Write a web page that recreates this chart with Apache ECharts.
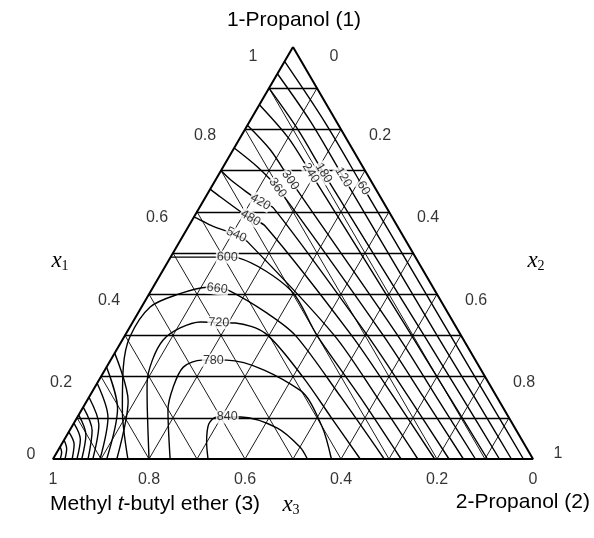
<!DOCTYPE html>
<html><head><meta charset="utf-8">
<script src="https://cdn.jsdelivr.net/npm/echarts@6/dist/echarts.min.js"></script>
<style>html,body{margin:0;padding:0;background:#fff}#c{width:594px;height:538px}</style>
</head><body><div id="c"></div>
<script>
// Compositions are [x1, x2]; x3 = 1 - x1 - x2
const tickValues = [0, 0.2, 0.4, 0.6, 0.8, 1];
const tickLabels = ['0', '0.2', '0.4', '0.6', '0.8', '1'];
const gridFractions = [0.1, 0.2, 0.3, 0.4, 0.5, 0.6, 0.7, 0.8, 0.9];
const levels = [60, 120, 180, 240, 300, 360, 420, 480, 540, 600, 660, 720, 780, 840];
const labelPoints = [[0.658,0.318],[0.684,0.263],[0.694,0.217],[0.694,0.19],[0.677,0.156],[0.658,0.139],[0.624,0.12],[0.585,0.119],[0.544,0.11],[0.49,0.118],[0.414,0.135],[0.331,0.18],[0.24,0.214],[0.102,0.312]];

// upper branches: left edge -> bottom edge
const u60  = [[0.965,0],[0.82,0.155],[0.658,0.318],[0.3,0.678],[0.15,0.829],[0,0.98]];
const u120 = [[0.935,0],[0.82,0.126],[0.684,0.263],[0.3,0.65],[0.15,0.803],[0,0.955]];
const u180 = [[0.9,0],[0.8,0.11],[0.694,0.217],[0.3,0.623],[0.15,0.777],[0,0.93]];
const u240 = [[0.86,0],[0.78,0.1],[0.694,0.19],[0.3,0.597],[0.15,0.751],[0,0.905]];
const u300 = [[0.81,0],[0.75,0.078],[0.677,0.156],[0.3,0.568],[0.15,0.724],[0,0.88]];
const u360 = [[0.755,0],[0.71,0.07],[0.658,0.139],[0.3,0.538],[0.15,0.697],[0,0.855]];
const u420 = [[0.7,0],[0.677,0.032],[0.641,0.091],[0.624,0.12],[0.609,0.155],[0.3,0.505],[0.15,0.666],[0,0.825]];
const u480 = [[0.655,0],[0.641,0.0225],[0.6,0.091],[0.585,0.119],[0.565,0.16],[0.3,0.472],[0.15,0.635],[0,0.795]];
const u540 = [[0.587,0],[0.5825,0.012],[0.565,0.05],[0.544,0.11],[0.527,0.142],[0.3,0.436],[0.15,0.6],[0,0.76]];
const u600 = [[0.49,0],[0.49,0.06],[0.49,0.118],[0.488,0.142],[0.41,0.29],[0.3,0.4],[0.15,0.565],[0,0.725]];
// arches (bottom edge -> bottom edge)
const a660 = [[0,0.156],[0.119,0.085],[0.223,0.035],[0.296,0.012],[0.369,0.018],[0.4,0.061],[0.417,0.113],[0.414,0.135],[0.41,0.16],[0.354,0.269],[0.3,0.355],[0.15,0.525],[0,0.69]];
const a720 = [[0,0.2],[0.119,0.137],[0.184,0.104],[0.24,0.087],[0.289,0.085],[0.318,0.106],[0.3325,0.141],[0.331,0.18],[0.33,0.215],[0.305,0.29],[0.2,0.42],[0.1,0.53],[0,0.64]];
const a780 = [[0,0.244],[0.119,0.18],[0.175,0.163],[0.223,0.16],[0.24,0.19],[0.24,0.214],[0.24,0.242],[0.167,0.431],[0.08,0.52],[0,0.58]];
const a840 = [[0,0.323],[0.04,0.3],[0.085,0.282],[0.102,0.29],[0.102,0.312],[0.102,0.34],[0.075,0.43],[0.029,0.5],[0,0.53]];
// lower-left branches near the ether corner
const l60  = [[0.03,0],[0.0165,0.0098],[0,0.015]];
const l120 = [[0.046,0],[0.025,0.016],[0,0.025]];
const l180 = [[0.066,0],[0.036,0.026],[0,0.04]];
const l240 = [[0.087,0],[0.048,0.033],[0,0.05]];
const l300 = [[0.107,0],[0.059,0.039],[0,0.06]];
const l360 = [[0.126,0],[0.069,0.047],[0,0.073]];
const l420 = [[0.15,0],[0.083,0.054],[0,0.083]];
const l480 = [[0.184,0],[0.101,0.064],[0,0.098]];
const l540 = [[0.223,0],[0.123,0.073],[0,0.112]];
const l600 = [[0.257,0],[0.141,0.086],[0,0.133]];

const labelBranches = [u60,u120,u180,u240,u300,u360,u420,u480,u540,u600,a660,a720,a780,a840];
const otherBranches = [l60,l120,l180,l240,l300,l360,l420,l480,l540,l600];

const toXY = p => [p[1] + p[0] / 2, p[0]];
const INK = '#000';
const SANS = 'Liberation Sans, Arial, sans-serif';
const chart = echarts.init(document.getElementById('c'));

function buildSeries(rotations) {
  const s = [];
  const base = {silent: true, animation: false, symbol: 'none'};
  const hLines = [], dLines = [];
  gridFractions.forEach(f => {
    hLines.push({coords: [toXY([f, 0]), toXY([f, 1 - f])]});
    dLines.push({coords: [toXY([0, f]), toXY([1 - f, f])]});
    dLines.push({coords: [toXY([0, 1 - f]), toXY([1 - f, 0])]});
  });
  s.push({type: 'lines', coordinateSystem: 'cartesian2d', silent: true, animation: false, data: hLines, lineStyle: {color: INK, width: 1.4, opacity: 1}});
  s.push({type: 'lines', coordinateSystem: 'cartesian2d', silent: true, animation: false, data: dLines, lineStyle: {color: INK, width: 0.9, opacity: 1}});
  labelBranches.concat(otherBranches).forEach(b => {
    s.push(Object.assign({type: 'line', data: b.map(toXY), smooth: 0.3, lineStyle: {color: INK, width: 1.4}}, base));
  });
  s.push(Object.assign({type: 'line', data: [[1,0],[0,0],[0,1],[1,0]].map(toXY), lineStyle: {color: INK, width: 2}}, base));
  s.push({type: 'scatter', silent: true, animation: false, symbolSize: 1, itemStyle: {color: 'rgba(0,0,0,0)'}, z: 5,
    data: labelPoints.map((p, i) => ({value: toXY(p), label: {show: true, position: 'inside', formatter: String(levels[i]), rotate: rotations ? rotations[i] : 0}})),
    label: {color: INK, fontSize: 12.5, fontFamily: SANS, backgroundColor: '#fff', padding: [0, 1]}});
  const tickData = [];
  tickValues.forEach((v, i) => {
    tickData.push({value: toXY([v, 0]), label: {formatter: tickLabels[i], offset: v === 0 ? [-22, -4] : (v === 1 ? [-40, 10] : [-40, 6])}});
    tickData.push({value: toXY([1 - v, v]), label: {formatter: tickLabels[i], offset: v === 1 ? [25, -5] : (v === 0 ? [41, 10] : [39, 6])}});
    tickData.push({value: toXY([0, 1 - v]), label: {formatter: tickLabels[i], offset: [0, 21]}});
  });
  s.push({type: 'scatter', silent: true, animation: false, symbolSize: 1, itemStyle: {color: 'rgba(0,0,0,0)'},
    data: tickData, label: {show: true, position: 'inside', color: INK, fontSize: 16, fontFamily: SANS}});
  return s;
}

const serif = 'Liberation Serif, DejaVu Serif, serif';
const sub = n => ({type: 'text', style: {text: '{i|x}{s|' + n + '}', fill: INK, align: 'center', verticalAlign: 'middle', rich: {i: {fontFamily: serif, fontStyle: 'italic', fontSize: 23, fill: INK}, s: {fontFamily: serif, fontSize: 14, padding: [11, 0, 0, 0], fill: INK}}}});
const option = {
  animation: false,
  grid: {left: 53, top: 47, width: 480, height: 412},
  xAxis: {type: 'value', min: 0, max: 1, show: false},
  yAxis: {type: 'value', min: 0, max: 1, show: false},
  graphic: [
    {type: 'text', x: 294, y: 20, style: {text: '1-Propanol (1)', fill: INK, font: '21px ' + SANS, align: 'center', verticalAlign: 'middle'}},
    {type: 'text', x: 50, y: 504, style: {text: 'Methyl {t|t}-butyl ether (3)', fill: INK, font: '21px ' + SANS, align: 'left', verticalAlign: 'middle', rich: {t: {fontStyle: 'italic', fontSize: 21, fontFamily: SANS, fill: INK}}}},
    {type: 'text', x: 590, y: 502, style: {text: '2-Propanol (2)', fill: INK, font: '21px ' + SANS, align: 'right', verticalAlign: 'middle'}},
    Object.assign(sub(1), {x: 60, y: 261}),
    Object.assign(sub(2), {x: 536, y: 261}),
    Object.assign(sub(3), {x: 291, y: 505})
  ],
  series: buildSeries(null)
};
chart.setOption(option);
const rotations = labelPoints.map((p, i) => {
  const b = labelBranches[i];
  const k = b.findIndex(q => q[0] === p[0] && q[1] === p[1]);
  const a = chart.convertToPixel({gridIndex: 0}, toXY(b[k - 1]));
  const c = chart.convertToPixel({gridIndex: 0}, toXY(b[k + 1]));
  let ang = Math.atan2(-(c[1] - a[1]), c[0] - a[0]) * 180 / Math.PI;
  if (ang > 90) ang -= 180;
  if (ang < -90) ang += 180;
  return ang;
});
chart.setOption({series: buildSeries(rotations)});
</script></body></html>
